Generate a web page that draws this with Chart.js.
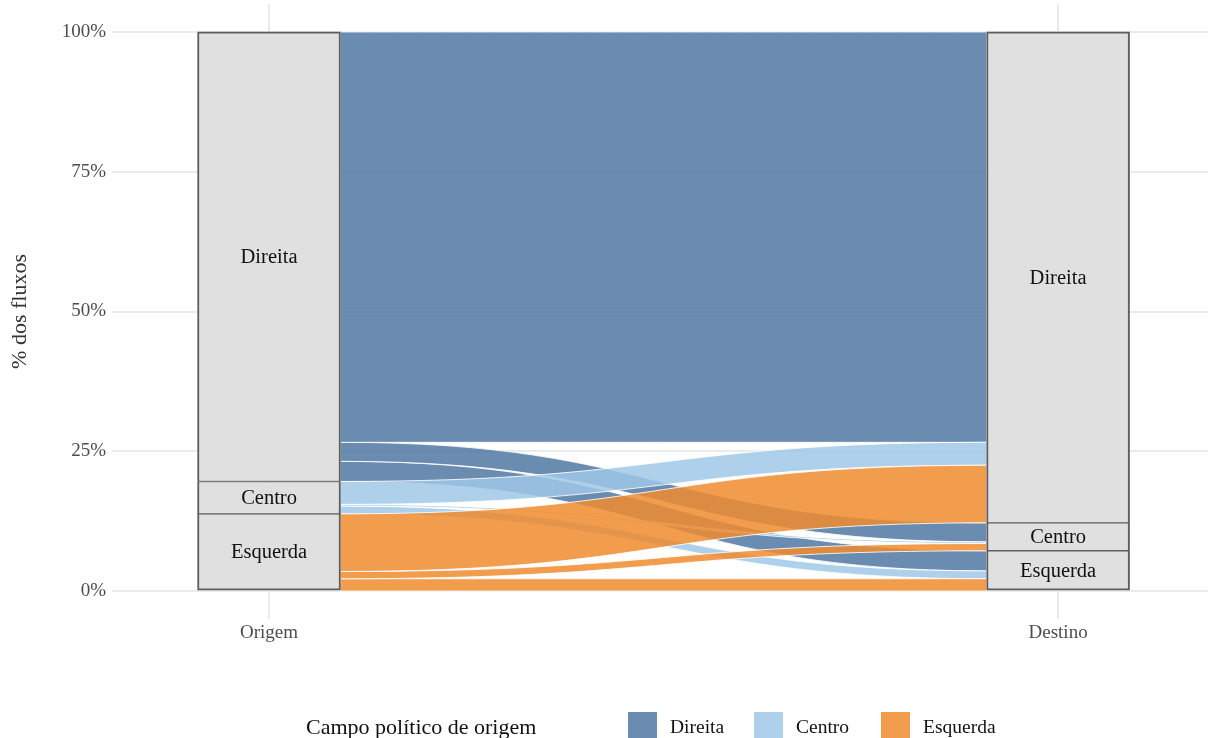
<!DOCTYPE html>
<html><head><meta charset="utf-8">
<script src="https://cdn.jsdelivr.net/npm/chart.js@4"></script>
<style>html,body{margin:0;padding:0;background:#fff;} #wrap{width:1208px;height:738px;position:relative;}</style>
</head><body><div id="wrap"><canvas id="c" width="1208" height="738"></canvas></div>
<script>
// ---- data ----
const axisLabels = ['Origem', 'Destino'];
const categories = ['Esquerda', 'Centro', 'Direita']; // stacking order, bottom to top
const legendOrder = ['Direita', 'Centro', 'Esquerda'];
const yTicks = [0, 25, 50, 75, 100];
// % of all flows, by destination [Esquerda, Centro, Direita]
const fromEsquerda = [2.2, 1.3, 10.3];
const fromCentro = [1.4, 0.3, 4.1];
const fromDireita = [3.6, 3.4, 73.4];

const flows = [fromEsquerda, fromCentro, fromDireita];
const colors = {
  Direita: 'rgba(80,120,162,0.85)',
  Centro: 'rgba(160,200,230,0.85)',
  Esquerda: 'rgba(240,140,47,0.85)'
};
const FONT = '"Liberation Serif", "Times New Roman", serif';

// strata totals
const originTotals = flows.map(r => r.reduce((a, b) => a + b, 0));
const destTotals = categories.map((_, d) => flows.reduce((a, r) => a + r[d], 0));
function stackRanges(totals) {
  let acc = 0;
  return totals.map(t => { const r = [acc, acc + t]; acc += t; return r; });
}
const originRanges = stackRanges(originTotals);
const destRanges = stackRanges(destTotals);
const strataData = [];
categories.forEach((c, i) => strataData.push({ x: 1, y: originRanges[i], label: c, top: i === 2, bottom: i === 0 }));
categories.forEach((c, i) => strataData.push({ x: 2, y: destRanges[i], label: c, top: i === 2, bottom: i === 0 }));

const flowPlugin = {
  id: 'flows',
  beforeDatasetsDraw(chart) {
    const { ctx } = chart;
    const ys = chart.scales.y;
    const meta = chart.getDatasetMeta(0);
    const o = meta.data[0], d = meta.data[3];
    const xL = o.x + o.width / 2, xR = d.x - d.width / 2;
    const xm = (xL + xR) / 2;
    const oOff = categories.map((_, i) => originRanges[i][0]);
    const dOff = categories.map((_, i) => destRanges[i][0]);
    const segs = [];
    for (let oi = 0; oi < 3; oi++) {
      for (let di = 0; di < 3; di++) {
        const v = flows[oi][di];
        segs.push({ oi, di, o0: oOff[oi], o1: oOff[oi] + v });
        oOff[oi] += v;
      }
    }
    for (let di = 0; di < 3; di++) {
      for (let oi = 0; oi < 3; oi++) {
        const s = segs.find(q => q.oi === oi && q.di === di);
        const v = flows[oi][di];
        s.d0 = dOff[di]; s.d1 = dOff[di] + v; dOff[di] += v;
      }
    }
    ctx.save();
    const area = chart.chartArea;
    ctx.beginPath(); ctx.rect(area.left, area.top, area.right - area.left, area.bottom - area.top); ctx.clip();
    [2, 1, 0].forEach(oi => {
      segs.filter(s => s.oi === oi).forEach(s => {
        const a0 = ys.getPixelForValue(s.o1), a1 = ys.getPixelForValue(s.o0);
        const b0 = ys.getPixelForValue(s.d1), b1 = ys.getPixelForValue(s.d0);
        ctx.beginPath();
        ctx.moveTo(xL, a0);
        ctx.bezierCurveTo(xm, a0, xm, b0, xR, b0);
        ctx.lineTo(xR, b1);
        ctx.bezierCurveTo(xm, b1, xm, a1, xL, a1);
        ctx.closePath();
        ctx.fillStyle = colors[categories[oi]];
        ctx.fill();
        ctx.strokeStyle = 'rgba(255,255,255,0.85)';
        ctx.lineWidth = 1;
        ctx.stroke();
      });
    });
    ctx.restore();
  },
  afterDatasetsDraw(chart) {
    const { ctx } = chart;
    const meta = chart.getDatasetMeta(0);
    ctx.save();
    ctx.fillStyle = '#111';
    ctx.font = '20.5px ' + FONT;
    ctx.textAlign = 'center';
    ctx.textBaseline = 'middle';
    meta.data.forEach((el, i) => {
      ctx.fillText(strataData[i].label, el.x, (el.y + el.base) / 2 + 1);
    });
    ctx.restore();
  },
  afterDraw(chart) {
    const { ctx } = chart;
    ctx.save();
    ctx.textBaseline = 'middle';
    ctx.textAlign = 'left';
    ctx.fillStyle = '#111';
    ctx.font = '22px ' + FONT;
    const cy = 728;
    ctx.fillText('Campo político de origem', 306, cy);
    ctx.font = '19.5px ' + FONT;
    const keyX = [628, 754, 881];
    legendOrder.forEach((name, i) => {
      ctx.fillStyle = colors[name];
      ctx.fillRect(keyX[i], 712, 29, 29);
      ctx.fillStyle = '#111';
      ctx.fillText(name, keyX[i] + 42, cy);
    });
    ctx.restore();
  }
};

new Chart(document.getElementById('c'), {
  type: 'bar',
  data: {
    datasets: [{
      label: 'Estratos',
      data: strataData,
      backgroundColor: '#E0E0E0',
      borderColor: '#5E5E5E',
      borderWidth: (c) => {
        const p = strataData[c.dataIndex] || {};
        return { left: 2, right: 2, top: p.top ? 2 : 1, bottom: p.bottom ? 2 : 1 };
      },
      borderSkipped: false,
      barThickness: 143,
      grouped: false
    }]
  },
  options: {
    responsive: false,
    animation: false,
    events: [],
    layout: { padding: { top: 4, right: 0, left: 0, bottom: 0 } },
    plugins: { legend: { display: false }, tooltip: { enabled: false } },
    scales: {
      x: {
        type: 'linear',
        min: 0.801, max: 2.19,
        offset: false,
        afterBuildTicks: (s) => { s.ticks = [{ value: 1 }, { value: 2 }]; },
        afterFit: (s) => { s.height = 119; s.paddingLeft = 0; s.paddingRight = 0; },
        ticks: {
          callback: (v, i) => axisLabels[i],
          color: '#4D4D4D',
          font: { family: FONT, size: 19 },
          padding: 3,
          maxRotation: 0,
          autoSkip: false
        },
        grid: { color: '#EBEBEB', lineWidth: 2, drawTicks: false, offset: false },
        border: { display: false }
      },
      y: {
        type: 'linear',
        min: -5, max: 105,
        afterBuildTicks: (s) => { s.ticks = yTicks.map(v => ({ value: v })); },
        afterFit: (s) => { s.width = 112; s.paddingTop = 0; s.paddingBottom = 0; },
        ticks: {
          callback: (v) => v + '%',
          color: '#4D4D4D',
          font: { family: FONT, size: 19 },
          padding: 6
        },
        grid: { color: '#EBEBEB', lineWidth: 2, drawTicks: false },
        border: { display: false },
        title: {
          display: true,
          text: '% dos fluxos',
          color: '#333',
          font: { family: FONT, size: 22 },
          padding: { top: 7, bottom: 0 }
        }
      }
    }
  },
  plugins: [flowPlugin]
});
</script>
</body></html>
